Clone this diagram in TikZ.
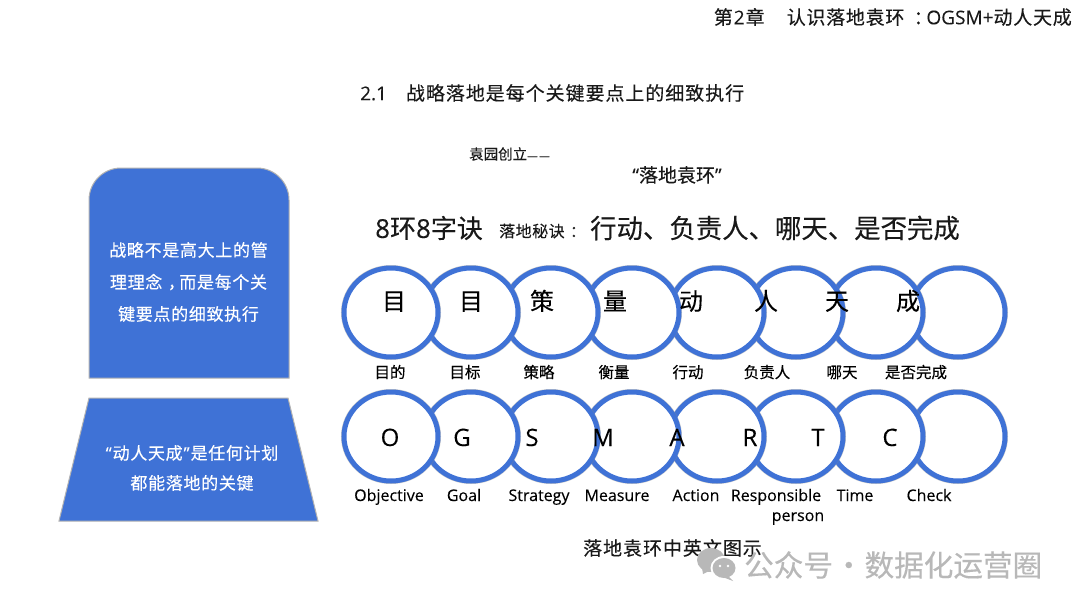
\documentclass[tikz,border=0pt]{standalone}
\usepackage{fontspec}
\setmainfont{Noto Sans CJK SC}[FakeBold=0.25]
\newfontfamily\latn{Open Sans}[FakeBold=0.15]
\newcommand{\lsp}[1]{\addfontfeature{LetterSpace=#1}}
\newcommand{\cpunct}[1]{\hspace{.33em}#1\hspace{-.33em}}
\definecolor{ringblue}{HTML}{3F72D6}
\definecolor{wm}{HTML}{B8B8B8}
\usetikzlibrary{shapes.geometric}
\tikzset{
 ringnode/.style={ellipse,draw=ringblue,line width=5pt,fill=white,minimum width=94pt,minimum height=89pt,inner sep=0pt},
 ringshadow/.style={ellipse,draw=black!45,line width=6pt,minimum width=94pt,minimum height=89pt,inner sep=0pt,opacity=.45},
 panel/.style={fill=ringblue,draw=black!30,line width=1pt},
 paneltext/.style={text=white,align=center,inner sep=0pt},
 biglabel/.style={font=\fontsize{24}{28}\selectfont,inner sep=0pt,anchor=base},
 smalllabel/.style={font=\fontsize{15.5}{16}\selectfont,inner sep=0pt,anchor=base},
 latinbig/.style={font=\latn\fontsize{24}{28}\selectfont,inner sep=0pt,anchor=base},
 latinsmall/.style={font=\latn\fontsize{16}{20}\selectfont,inner sep=0pt,anchor=base},
 bodytext/.style={inner sep=0pt,text=black!90},
}
\begin{document}
\begin{tikzpicture}[x=1pt,y=-1pt]
\useasboundingbox (0,0) rectangle (1080,608);
\fill[white] (0,0) rectangle (1080,608);
% headings
\node[bodytext,anchor=east,font=\fontsize{19}{20}\selectfont\lsp{4}] (chap) at (1072,17) {第\hspace{1pt}{\latn 2}\hspace{1pt}章\hspace{22pt}认识落地袁环\hspace{3pt}\cpunct{：}{\latn OGSM+}动人天成};
\node[bodytext,anchor=west,font=\fontsize{19}{20}\selectfont\lsp{5}] (sec) at (360,93) {{\latn 2.1}\hspace{1em}战略落地是每个关键要点上的细致执行};
\node[bodytext,anchor=west,font=\fontsize{14.5}{16}\selectfont] (found) at (469,154) {袁园创立{\latn\fontsize{10.5}{10}\selectfont —\hspace{1.5pt}—}};
\node[bodytext,font=\fontsize{19}{20}\selectfont] (title) at (677,175) {{\latn “}落地袁环{\latn ”}};
\node[bodytext,anchor=west,font=\fontsize{26}{28}\selectfont] (eight) at (375,228) {{\latn 8}环{\latn 8}字诀};
\node[bodytext,anchor=west,font=\fontsize{16}{20}\selectfont\lsp{3}] (secret) at (499,231) {落地秘诀\cpunct{：}};
\node[bodytext,anchor=west,font=\fontsize{26.4}{28}\selectfont] (acts) at (590,228) {行动、负责人、哪天、是否完成};
% left panels
\draw[panel] (89,378) -- (89,200) arc[start angle=180,end angle=270,radius=32] -- (257,168) arc[start angle=270,end angle=360,radius=32] -- (289,378) -- cycle;
\node[paneltext,font=\fontsize{17}{32}\selectfont\lsp{4}] (p1) at (188.5,282) {战略不是高大上的管\\理理念\cpunct{，}而是每个关\\键要点的细致执行};
\draw[panel] (89,398) -- (288,398) -- (318,521) -- (59,521) -- cycle;
\node[paneltext,font=\fontsize{17}{30}\selectfont\lsp{4}] (p2) at (192,468) {{\latn “}\hspace{1pt}动人天成\hspace{1pt}{\latn ”}\hspace{1pt}是任何计划\\都能落地的关键\hspace{7pt}};
% rings, drawn right to left so that the left ones lie on top
\foreach \n/\cx in {8/958,7/876,6/796,5/717,4/632,3/551,2/471,1/391}{
  \node[ringshadow] at (\cx,312.5) {};
  \node[ringnode] (a\n) at (\cx,312.5) {};
  \node[ringshadow] at (\cx,436.5) {};
  \node[ringnode] (b\n) at (\cx,436.5) {};
}
\foreach \t/\x in {目/394,目/471,策/542,量/615,动/691,人/766,天/837,成/908}
  \node[biglabel] at (\x,310) {\t};
\foreach \t/\x in {目的/390,目标/465,策略/539,衡量/614,行动/688,负责人/767,哪天/842,是否完成/916}
  \node[smalllabel] at (\x,378) {\t};
\foreach \t/\x in {O/390,G/462,S/532,M/603,A/677,R/750,T/818,C/890}
  \node[latinbig] at (\x,446) {\t};
\node[latinsmall] (l1) at (389,501) {Objective};
\node[latinsmall] (l2) at (464,501) {Goal};
\node[latinsmall] (l3) at (539,501) {Strategy};
\node[latinsmall] (l4) at (617,501) {Measure};
\node[latinsmall] (l5) at (696,501) {Action};
\node[latinsmall] (l6) at (776,501) {Responsible};
\node[latinsmall] (l6b) at (798,521) {person};
\node[latinsmall] (l7) at (855,501) {Time};
\node[latinsmall] (l8) at (929,501) {Check};
\node[bodytext,anchor=west,font=\fontsize{19}{20}\selectfont\lsp{5}] (cap) at (583,548) {落地袁环中英文图示};
% watermark
\fill[wm] (711,560) ellipse[x radius=14,y radius=12];
\fill[wm] (702,568) -- (703,574) -- (711,570) -- cycle;
\fill[white] (724,568) ellipse[x radius=13.5,y radius=12];
\fill[wm] (724,568) ellipse[x radius=11.5,y radius=10];
\fill[wm] (727,575) -- (733,581) -- (720,576) -- cycle;
\fill[white] (720,566) circle[radius=1.4] (728,566) circle[radius=1.4];
\node[inner sep=0pt,text=wm,anchor=west,font=\fontsize{29.6}{28}\selectfont] (wmtext) at (744,565) {公众号\hspace{1pt}·\hspace{1pt}数据化运营圈};
\end{tikzpicture}
\end{document}
